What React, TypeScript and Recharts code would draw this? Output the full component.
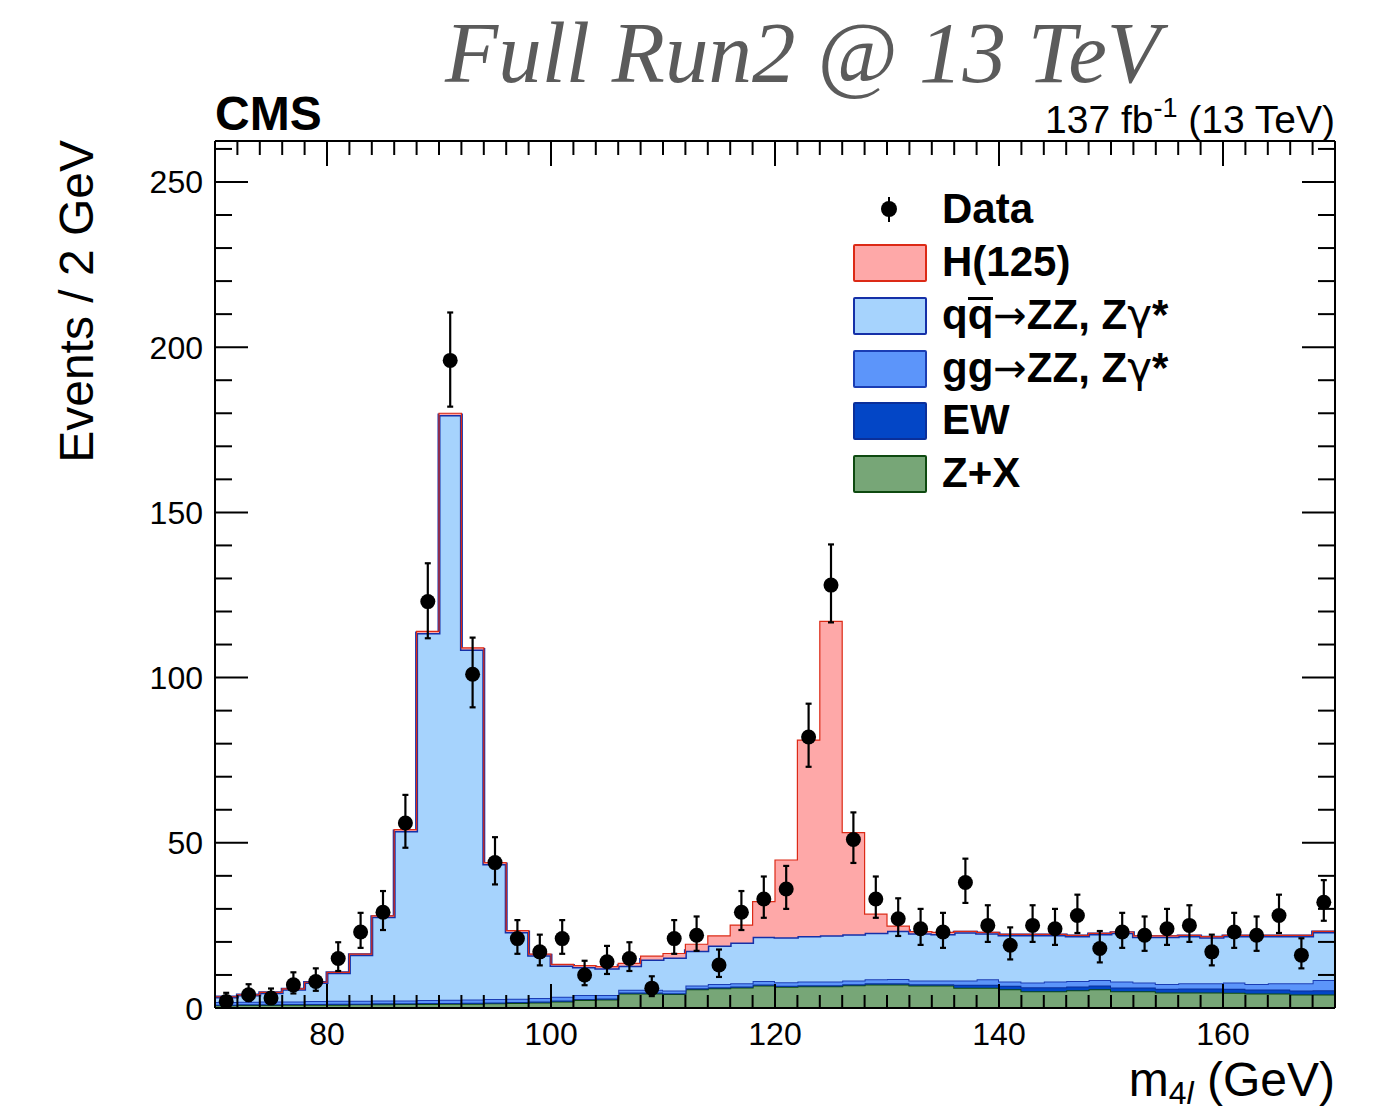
import { ComposedChart, Area, Scatter, ErrorBar, XAxis, YAxis } from 'recharts'

// lower edge of each 2 GeV bin in m4l
const binLow = [
  70, 72, 74, 76, 78, 80, 82, 84, 86, 88, 90, 92, 94, 96, 98, 100, 102, 104, 106, 108, 110, 112, 114, 116, 118,
  120, 122, 124, 126, 128, 130, 132, 134, 136, 138, 140, 142, 144, 146, 148, 150, 152, 154, 156, 158, 160, 162,
  164, 166, 168,
]

// stacked contributions per bin (events / 2 GeV)
const zPlusX = [
  0.8, 0.9, 0.9, 1.0, 1.0, 1.0, 1.1, 1.1, 1.2, 1.2, 1.3, 1.3, 1.4, 1.5, 1.7, 2.0, 2.4, 2.6, 4.4, 4.4, 4.2, 5.7, 6.0,
  6.2, 6.8, 6.4, 6.6, 6.6, 6.9, 7.1, 7.1, 6.8, 6.8, 6.1, 6.1, 5.7, 5.1, 5.1, 5.4, 5.7, 5.1, 5.1, 4.7, 4.7, 4.7, 4.6,
  4.4, 4.4, 4.1, 4.1,
]
const ew = [
  0.2, 0.2, 0.2, 0.2, 0.2, 0.3, 0.2, 0.3, 0.2, 0.3, 0.2, 0.3, 0.3, 0.3, 0.3, 0.3, 0.3, 0.3, 0.3, 0.3, 0.3, 0.3, 0.3,
  0.3, 0.3, 0.3, 0.3, 0.3, 0.3, 0.4, 0.4, 0.4, 0.4, 0.9, 0.9, 1.0, 1.2, 1.2, 1.1, 1.1, 1.1, 1.1, 1.1, 1.2, 1.2, 1.2,
  1.2, 1.2, 1.2, 1.3,
]
const ggZZ = [
  0.8, 0.8, 0.9, 0.8, 0.9, 0.9, 0.9, 0.9, 0.9, 0.9, 1.0, 1.0, 1.0, 1.0, 1.0, 1.1, 1.2, 1.0, 0.8, 0.8, 0.8, 0.8, 1.0,
  1.0, 1.1, 1.1, 1.1, 1.1, 1.1, 1.2, 1.3, 1.1, 1.1, 1.3, 1.7, 1.3, 1.4, 1.7, 1.7, 1.7, 1.8, 1.5, 1.5, 1.6, 1.6, 1.9,
  1.7, 1.9, 2.2, 3.1,
]
const qqZZ = [
  1.5, 2.0, 2.6, 3.7, 5.6, 8.5, 13.9, 25.3, 51.3, 111.1, 177.0, 105.9, 40.9, 20.2, 13.0, 9.5, 8.5, 8.1, 7.3, 9.2,
  10.0, 10.5, 11.6, 12.3, 13.4, 13.6, 13.8, 14.0, 14.0, 14.1, 14.6, 14.3, 14.1, 14.6, 13.9, 14.1, 14.4, 14.1, 13.6,
  13.9, 14.8, 13.9, 14.3, 14.3, 13.9, 14.1, 14.5, 14.3, 14.3, 14.5,
]
const higgs = [
  0.1, 0.1, 0.1, 0.1, 0.1, 0.1, 0.2, 0.3, 0.4, 0.5, 0.5, 0.5, 0.4, 0.4, 0.3, 0.3, 0.4, 0.5, 0.7, 1.0, 1.2, 2.0, 2.9,
  5.3, 10.6, 23.4, 59.3, 95.0, 30.8, 5.6, 1.4, 0.5, 0.5, 0.3, 0.3, 0.2, 0.2, 0.2, 0.2, 0.2, 0.2, 0.2, 0.2, 0.2, 0.2,
  0.2, 0.2, 0.2, 0.2, 0.2,
]

// observed events and their asymmetric errors
const dataCounts = [
  2, 4, 3, 7, 8, 15, 23, 29, 56, 123, 196, 101, 44, 21, 17, 21, 10, 14, 15, 6, 21, 22, 13, 29, 33, 36, 82, 128, 51,
  33, 27, 24, 23, 38, 25, 19, 25, 24, 28, 18, 23, 22, 24, 25, 17, 23, 22, 28, 16, 32,
]
const errLow = [
  1.3, 1.9, 1.6, 2.6, 2.8, 3.8, 4.8, 5.4, 7.5, 11.1, 14.0, 10.0, 6.6, 4.6, 4.1, 4.6, 3.1, 3.7, 3.8, 2.4, 4.6, 4.7,
  3.6, 5.4, 5.7, 6.0, 9.0, 11.3, 7.1, 5.7, 5.2, 4.9, 4.8, 6.2, 5.0, 4.3, 5.0, 4.9, 5.3, 4.2, 4.8, 4.7, 4.9, 5.0, 4.1,
  4.8, 4.7, 5.3, 4.0, 5.6,
]
const errHigh = [
  2.6, 3.2, 2.9, 3.8, 4.0, 4.9, 5.8, 6.4, 8.5, 11.6, 14.5, 11.1, 7.7, 5.6, 5.2, 5.6, 4.3, 4.8, 4.9, 3.6, 5.6, 5.7,
  4.7, 6.4, 6.8, 7.0, 10.1, 12.3, 8.2, 6.8, 6.2, 6.0, 5.8, 7.2, 6.1, 5.4, 6.1, 6.0, 6.3, 5.3, 5.8, 5.7, 6.0, 6.1, 5.2,
  5.8, 5.7, 6.3, 5.1, 6.7,
]

const xTicks = [...binLow, 170]
const xMajor = [80, 100, 120, 140, 160]
const yTicks = [0, 10, 20, 30, 40, 50, 60, 70, 80, 90, 100, 110, 120, 130, 140, 150, 160, 170, 180, 190, 200, 210, 220, 230, 240, 250, 260]
const yMajor = [0, 50, 100, 150, 200, 250]

const histo = [
  ...binLow.map((x, i) => ({ x, zx: zPlusX[i], ew: ew[i], gg: ggZZ[i], qq: qqZZ[i], h: higgs[i] })),
  { x: 170, zx: zPlusX[49], ew: ew[49], gg: ggZZ[49], qq: qqZZ[49], h: higgs[49] },
]
const points = binLow.map((x, i) => ({ x: x + 1, y: dataCounts[i], err: [errLow[i], errHigh[i]] }))

const FONT = '"Liberation Sans", Arial, Helvetica, sans-serif'
const W = 1384
const H = 1115

const colors = {
  h: { fill: '#fea8a8', stroke: '#dc2a16' },
  qq: { fill: '#a6d3fd', stroke: '#1530a8' },
  gg: { fill: '#5c95fa', stroke: '#1a3db4' },
  ew: { fill: '#0346c6', stroke: '#0a2f9a' },
  zx: { fill: '#77a677', stroke: '#0e4a10' },
}

function BottomTick({ x, y, payload }: any) {
  const major = xMajor.includes(payload.value)
  return (
    <g>
      <line x1={x} x2={x} y1={y} y2={y - (major ? 24 : 13)} stroke="#000" strokeWidth={2} />
      {major && (
        <text x={x} y={y + 37} textAnchor="middle" fontSize={32} fontFamily={FONT} fill="#000">
          {payload.value}
        </text>
      )}
    </g>
  )
}

// top axis is 1px tall, so its tick y sits one pixel above the frame
function TopTick({ x, y, payload }: any) {
  const major = xMajor.includes(payload.value)
  const y0 = y + 1
  return <line x1={x} x2={x} y1={y0} y2={y0 + (major ? 24 : 13)} stroke="#000" strokeWidth={2} />
}

function LeftTick({ x, y, payload }: any) {
  const major = yMajor.includes(payload.value)
  return (
    <g>
      <line x1={x} x2={x + (major ? 33 : 17)} y1={y} y2={y} stroke="#000" strokeWidth={2} />
      {major && (
        <text x={x - 12} y={y} dy="0.36em" textAnchor="end" fontSize={32} fontFamily={FONT} fill="#000">
          {payload.value}
        </text>
      )}
    </g>
  )
}

function RightTick({ x, y, payload }: any) {
  const major = yMajor.includes(payload.value)
  return <line x1={x} x2={x - (major ? 33 : 17)} y1={y} y2={y} stroke="#000" strokeWidth={2} />
}

function DataDot(props: any) {
  return <circle cx={props.cx} cy={props.cy} r={7.5} fill="#000" />
}

const arrow = <span style={{ fontWeight: 400, fontFamily: '"DejaVu Sans", sans-serif', fontSize: 40 }}>→</span>
const gamma = <span style={{ fontWeight: 400, fontFamily: '"DejaVu Sans", sans-serif' }}>γ</span>

const legendRows = [
  { key: 'h', label: <>H(125)</>, center: 262 },
  {
    key: 'qq',
    label: (
      <>
        q
        <span style={{ display: 'inline-block', lineHeight: '30px', borderTop: '3px solid #000' }}>q</span>
        {arrow}ZZ, Z{gamma}*
      </>
    ),
    center: 315,
  },
  {
    key: 'gg',
    label: (
      <>
        gg{arrow}ZZ, Z{gamma}*
      </>
    ),
    center: 368,
  },
  { key: 'ew', label: <>EW</>, center: 420 },
  { key: 'zx', label: <>Z+X</>, center: 473 },
]

function HistLegend() {
  return (
    <div style={{ position: 'absolute', left: 0, top: 0, fontFamily: FONT, fontWeight: 700, fontSize: 42 }}>
      <div style={{ position: 'absolute', left: 888, top: 197, width: 2, height: 25, background: '#000' }} />
      <div
        style={{ position: 'absolute', left: 881, top: 201, width: 16, height: 16, borderRadius: 8, background: '#000' }}
      />
      <div style={{ position: 'absolute', left: 942, top: 183, height: 52, lineHeight: '52px', whiteSpace: 'nowrap' }}>
        Data
      </div>
      {legendRows.map((r) => {
        const c = (colors as any)[r.key]
        return (
          <div key={r.key}>
            <div
              style={{
                position: 'absolute',
                left: 853,
                top: r.center - 18,
                width: 70,
                height: 34,
                background: c.fill,
                border: `2px solid ${c.stroke}`,
                borderRadius: 2,
              }}
            />
            <div
              style={{
                position: 'absolute',
                left: 942,
                top: r.center - 26,
                height: 52,
                lineHeight: '52px',
                whiteSpace: 'nowrap',
              }}
            >
              {r.label}
            </div>
          </div>
        )
      })}
    </div>
  )
}

export default function App() {
  return (
    <div style={{ position: 'absolute', left: 0, top: 0, width: W, height: H, background: '#fff' }}>
      <ComposedChart width={W} height={H} data={histo} margin={{ top: 140, right: 48, bottom: 0, left: 0 }}>
        <Area type="stepAfter" dataKey="zx" stackId="s" fill={colors.zx.fill} fillOpacity={1} stroke={colors.zx.stroke} strokeWidth={2} isAnimationActive={false} />
        <Area type="stepAfter" dataKey="ew" stackId="s" fill={colors.ew.fill} fillOpacity={1} stroke={colors.ew.stroke} strokeWidth={2} isAnimationActive={false} />
        <Area type="stepAfter" dataKey="gg" stackId="s" fill={colors.gg.fill} fillOpacity={1} stroke={colors.gg.stroke} strokeWidth={2} isAnimationActive={false} />
        <Area type="stepAfter" dataKey="qq" stackId="s" fill={colors.qq.fill} fillOpacity={1} stroke={colors.qq.stroke} strokeWidth={3} isAnimationActive={false} />
        <Area type="stepAfter" dataKey="h" stackId="s" fill={colors.h.fill} fillOpacity={1} stroke={colors.h.stroke} strokeWidth={1.2} isAnimationActive={false} />
        <Scatter
          data={points}
          dataKey="y"
          xAxisId="top"
          yAxisId="right"
          shape={<DataDot />}
          isAnimationActive={false}
        >
          <ErrorBar dataKey="err" direction="y" width={3} strokeWidth={2.2} stroke="#000" isAnimationActive={false} />
        </Scatter>
        <XAxis
          dataKey="x"
          type="number"
          domain={[70, 170]}
          allowDataOverflow
          ticks={xTicks}
          interval={0}
          height={107}
          tickSize={0}
          tickMargin={0}
          tickLine={false}
          tick={<BottomTick />}
          axisLine={{ stroke: '#000', strokeWidth: 2 }}
        />
        <XAxis
          xAxisId="top"
          orientation="top"
          dataKey="x"
          type="number"
          domain={[70, 170]}
          allowDataOverflow
          ticks={xTicks}
          interval={0}
          height={1}
          tickSize={0}
          tickMargin={0}
          tickLine={false}
          tick={<TopTick />}
          axisLine={{ stroke: '#000', strokeWidth: 2 }}
        />
        <YAxis
          type="number"
          domain={[0, 262.4]}
          allowDataOverflow
          ticks={yTicks}
          interval={0}
          width={215}
          tickSize={0}
          tickMargin={0}
          tickLine={false}
          tick={<LeftTick />}
          axisLine={{ stroke: '#000', strokeWidth: 2 }}
        />
        <YAxis
          yAxisId="right"
          orientation="right"
          type="number"
          domain={[0, 262.4]}
          allowDataOverflow
          ticks={yTicks}
          interval={0}
          width={1}
          tickSize={0}
          tickMargin={0}
          tickLine={false}
          tick={<RightTick />}
          axisLine={{ stroke: '#000', strokeWidth: 2 }}
        />
      </ComposedChart>

      <svg width={W} height={H} style={{ position: 'absolute', left: 0, top: 0, pointerEvents: 'none' }}>
        <text
          x={445}
          y={82}
          fontSize={86}
          fontStyle="italic"
          fontFamily='"Liberation Serif", "DejaVu Serif", serif'
          fill="#5b5b5b"
          textLength={715}
          lengthAdjust="spacingAndGlyphs"
        >
          Full Run2 @ 13 TeV
        </text>
        <text x={215} y={130} fontSize={48} fontWeight={700} fontFamily={FONT} fill="#000">
          CMS
        </text>
        <text x={1335} y={133} fontSize={39} textAnchor="end" fontFamily={FONT} fill="#000">
          137 fb
          <tspan fontSize={27} dy={-16}>
            -1
          </tspan>
          <tspan fontSize={39} dy={16}>
            {' '}(13 TeV)
          </tspan>
        </text>
        <text transform="translate(93,140) rotate(-90)" textAnchor="end" fontSize={48} fontFamily={FONT} fill="#000">
          Events / 2 GeV
        </text>
        <text x={1335} y={1096} textAnchor="end" fontSize={48} fontFamily={FONT} fill="#000">
          m
          <tspan fontSize={32} dy={8}>
            4
          </tspan>
          <tspan fontSize={32} fontStyle="italic">
            l
          </tspan>
          <tspan fontSize={48} dy={-8}>
            {' '}(GeV)
          </tspan>
        </text>
      </svg>
      <HistLegend />
    </div>
  )
}
